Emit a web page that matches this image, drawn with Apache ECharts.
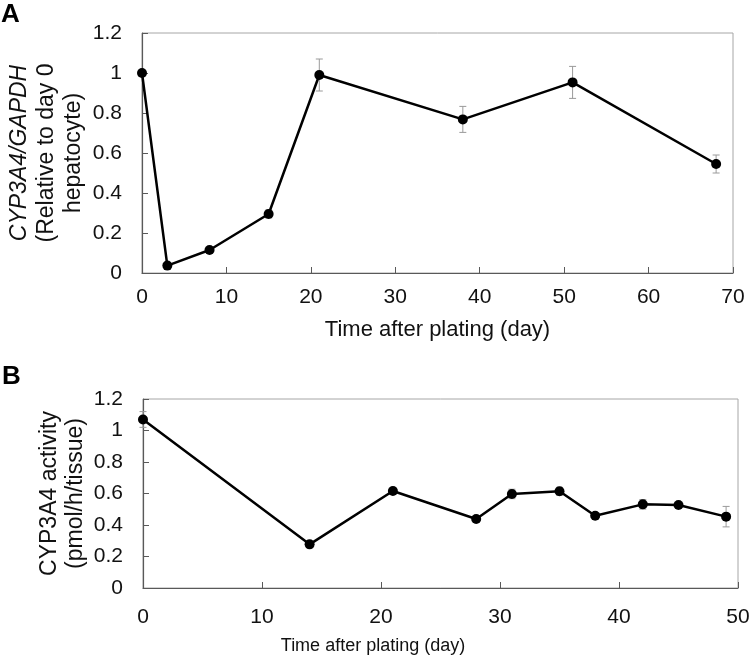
<!DOCTYPE html>
<html>
<head>
<meta charset="utf-8">
<script src="https://cdn.jsdelivr.net/npm/echarts@6/dist/echarts.min.js"></script>
<style>
  html, body { margin: 0; padding: 0; background: #fff; }
  #chart { width: 750px; height: 658px; }
</style>
</head>
<body>
<div id="chart"></div>
<script>
// panel A: CYP3A4 mRNA
const daysA = [0, 3, 8, 15, 21, 38, 51, 68];
const valuesA = [1.0, 0.037, 0.115, 0.295, 0.99, 0.768, 0.953, 0.545];
const errA = [0, 0.01, 0.01, 0.02, 0.08, 0.065, 0.08, 0.045];

// panel B: CYP3A4 activity
const daysB = [0, 14, 21, 28, 31, 35, 38, 42, 45, 49];
const valuesB = [1.07, 0.277, 0.616, 0.438, 0.597, 0.614, 0.459, 0.531, 0.527, 0.453];
const errB = [0.05, 0.02, 0.01, 0.01, 0.03, 0.025, 0.01, 0.03, 0.015, 0.065];

const xTicksA = [0, 10, 20, 30, 40, 50, 60, 70];
const xTicksB = [0, 10, 20, 30, 40, 50];
const yTicks = [0, 0.2, 0.4, 0.6, 0.8, 1, 1.2];

const FONT = 'Liberation Sans, Arial, sans-serif';
const AXIS_DARK = '#595959';
const AXIS_LIGHT = '#a6a6a6';

const chart = echarts.init(document.getElementById('chart'));

function errorBar(params, api) {
  const x = api.value(0);
  const top = api.coord([x, api.value(2)]);
  const bot = api.coord([x, api.value(1)]);
  const w = 3.5;
  const style = { stroke: '#9a9a9a', lineWidth: 1 };
  return {
    type: 'group',
    children: [
      { type: 'line', shape: { x1: top[0], y1: top[1], x2: bot[0], y2: bot[1] }, style: style },
      { type: 'line', shape: { x1: top[0] - w, y1: top[1], x2: top[0] + w, y2: top[1] }, style: style },
      { type: 'line', shape: { x1: bot[0] - w, y1: bot[1], x2: bot[0] + w, y2: bot[1] }, style: style }
    ]
  };
}

function xAxisOpt(gridIndex, ticks, gap, nameSize, labelMargin, namePad) {
  return {
    type: 'value',
    gridIndex: gridIndex,
    min: ticks[0],
    max: ticks[ticks.length - 1],
    interval: 10,
    name: 'Time after plating (day)',
    nameLocation: 'middle',
    nameGap: gap,
    nameMoveOverlap: false,
    nameTextStyle: { fontFamily: FONT, fontSize: nameSize, color: '#111', padding: namePad },
    axisLine: { show: true, lineStyle: { color: AXIS_DARK, width: 1.2 } },
    axisTick: { show: true, inside: true, length: 6, lineStyle: { color: AXIS_DARK } },
    axisLabel: { fontFamily: FONT, fontSize: 21, color: '#111', margin: labelMargin },
    splitLine: { show: false }
  };
}

function yAxisOpt(gridIndex, name, gap, size, lh, rich) {
  return {
    type: 'value',
    gridIndex: gridIndex,
    min: yTicks[0],
    max: yTicks[yTicks.length - 1],
    interval: 0.2,
    name: name,
    nameLocation: 'middle',
    nameGap: gap,
    nameMoveOverlap: false,
    nameTextStyle: { fontFamily: FONT, fontSize: size, color: '#111', lineHeight: lh, rich: rich },
    axisLine: { show: true, lineStyle: { color: AXIS_DARK, width: 1.2 } },
    axisTick: { show: true, inside: true, length: 6, lineStyle: { color: AXIS_DARK } },
    axisLabel: { fontFamily: FONT, fontSize: 21, color: '#111', margin: 20 },
    splitLine: { show: false }
  };
}

function lineSeries(idx, days, values) {
  return {
    type: 'line',
    xAxisIndex: idx,
    yAxisIndex: idx,
    data: days.map((d, i) => [d, values[i]]),
    symbol: 'circle',
    symbolSize: 10,
    clip: false,
    z: 3,
    lineStyle: { color: '#000', width: 2.5 },
    itemStyle: { color: '#000' }
  };
}

function errSeries(idx, days, values, errs) {
  return {
    type: 'custom',
    xAxisIndex: idx,
    yAxisIndex: idx,
    renderItem: errorBar,
    clip: false,
    z: 2,
    encode: { x: 0, y: [1, 2] },
    data: days.map((d, i) => [d, values[i] - errs[i], values[i] + errs[i]])
  };
}

const option = {
  animation: false,
  backgroundColor: '#fff',
  grid: [
    { left: 142, top: 33, width: 591, height: 240, outerBoundsMode: 'none', containLabel: false,
      show: true, borderColor: AXIS_LIGHT, borderWidth: 1 },
    { left: 143, top: 399, width: 595, height: 189, outerBoundsMode: 'none', containLabel: false,
      show: true, borderColor: AXIS_LIGHT, borderWidth: 1 }
  ],
  xAxis: [
    xAxisOpt(0, xTicksA, 46, 22, 14, 0),
    xAxisOpt(1, xTicksB, 49, 18, 19, [0, 135, 0, 0])
  ],
  yAxis: [
    yAxisOpt(0, '{i|CYP3A4/GAPDH}\n(Relative to day 0\nhepatocyte)', 55, 23, 27,
      { i: { fontFamily: FONT, fontSize: 23, fontStyle: 'italic', color: '#111', lineHeight: 27 } }),
    yAxisOpt(1, 'CYP3A4 activity\n(pmol/h/tissue)', 54, 23, 26, {})
  ],
  graphic: [
    { type: 'text', left: 1, top: 2, style: { text: 'A', fontFamily: FONT, fontSize: 26, fontWeight: 'bold', fill: '#000' } },
    { type: 'text', left: 2, top: 364, style: { text: 'B', fontFamily: FONT, fontSize: 26, fontWeight: 'bold', fill: '#000' } }
  ],
  series: [
    errSeries(0, daysA, valuesA, errA),
    lineSeries(0, daysA, valuesA),
    errSeries(1, daysB, valuesB, errB),
    lineSeries(1, daysB, valuesB)
  ]
};

chart.setOption(option);
</script>
</body>
</html>
